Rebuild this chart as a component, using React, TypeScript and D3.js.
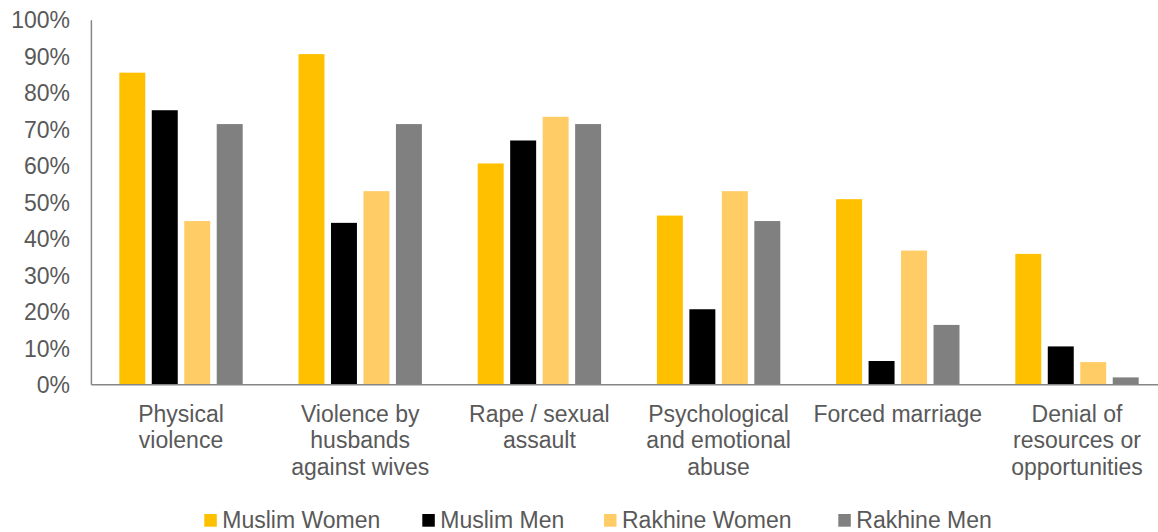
import React from "react";
import * as d3 from "d3";

const categories: string[][] = [
  ["Physical", "violence"],
  ["Violence by", "husbands", "against wives"],
  ["Rape / sexual", "assault"],
  ["Psychological", "and emotional", "abuse"],
  ["Forced marriage"],
  ["Denial of", "resources or", "opportunities"],
];
const seriesNames = ["Muslim Women", "Muslim Men", "Rakhine Women", "Rakhine Men"];
const seriesColors = ["#FFC000", "#000000", "#FFCC66", "#808080"];
const muslimWomen = [85.6, 90.7, 60.7, 46.4, 50.9, 35.9];
const muslimMen = [75.3, 44.4, 67.0, 20.7, 6.5, 10.5];
const rakhineWomen = [44.9, 53.1, 73.5, 53.1, 36.8, 6.2];
const rakhineMen = [71.5, 71.5, 71.5, 44.9, 16.4, 2.0];
const yTicks = [0, 10, 20, 30, 40, 50, 60, 70, 80, 90, 100];

const seriesValues = [muslimWomen, muslimMen, rakhineWomen, rakhineMen];

export default function App() {
  const W = 1158;
  const H = 532;
  const left = 91.4;
  const right = 1166.6;
  const top = 20.2;
  const bottom = 384.7;
  const font = "'Liberation Sans', Arial, sans-serif";
  const textColor = "#595959";
  const fs = 23;

  const x0 = d3.scaleBand<number>().domain(d3.range(categories.length)).range([left, right]).padding(0);
  const bw = x0.bandwidth();
  const x1 = d3
    .scaleBand<number>()
    .domain(d3.range(seriesNames.length))
    .range([bw * 0.1557, bw * (1 - 0.1557)])
    .paddingInner(0.2)
    .paddingOuter(0);
  const y = d3.scaleLinear().domain([0, 100]).range([bottom, top]);

  const legendX = [204.3, 422.3, 604, 838.3];

  return (
    <svg
      width={W}
      height={H}
      style={{ position: "absolute", left: 0, top: 0, background: "#fff" }}
      fontFamily={font}
    >
      {categories.map((_, ci) => (
        <g key={ci} transform={`translate(${x0(ci)},0)`}>
          {seriesValues.map((vals, si) => (
            <rect
              key={si}
              x={x1(si)}
              y={y(vals[ci])}
              width={x1.bandwidth()}
              height={bottom - y(vals[ci])}
              fill={seriesColors[si]}
            />
          ))}
        </g>
      ))}
      <line x1={left} x2={left} y1={top} y2={bottom} stroke="#868686" strokeWidth={1.5} />
      <line x1={left} x2={right} y1={bottom} y2={bottom} stroke="#868686" strokeWidth={1.5} />
      {yTicks.map((t) => (
        <text
          key={t}
          x={70}
          y={y(t)}
          dy="0.36em"
          textAnchor="end"
          fontSize={fs}
          fill={textColor}
        >
          {t}%
        </text>
      ))}
      {categories.map((lines, ci) => (
        <text
          key={ci}
          x={(x0(ci) as number) + bw / 2}
          y={421.7}
          textAnchor="middle"
          fontSize={fs}
          fill={textColor}
        >
          {lines.map((ln, li) => (
            <tspan key={li} x={(x0(ci) as number) + bw / 2} dy={li === 0 ? 0 : 26.7}>
              {ln}
            </tspan>
          ))}
        </text>
      ))}
      {seriesNames.map((name, si) => (
        <g key={si}>
          <rect x={legendX[si]} y={514} width={12.5} height={12.7} fill={seriesColors[si]} />
          <text x={legendX[si] + 18} y={527.5} fontSize={fs} fill={textColor}>
            {name}
          </text>
        </g>
      ))}
    </svg>
  );
}
